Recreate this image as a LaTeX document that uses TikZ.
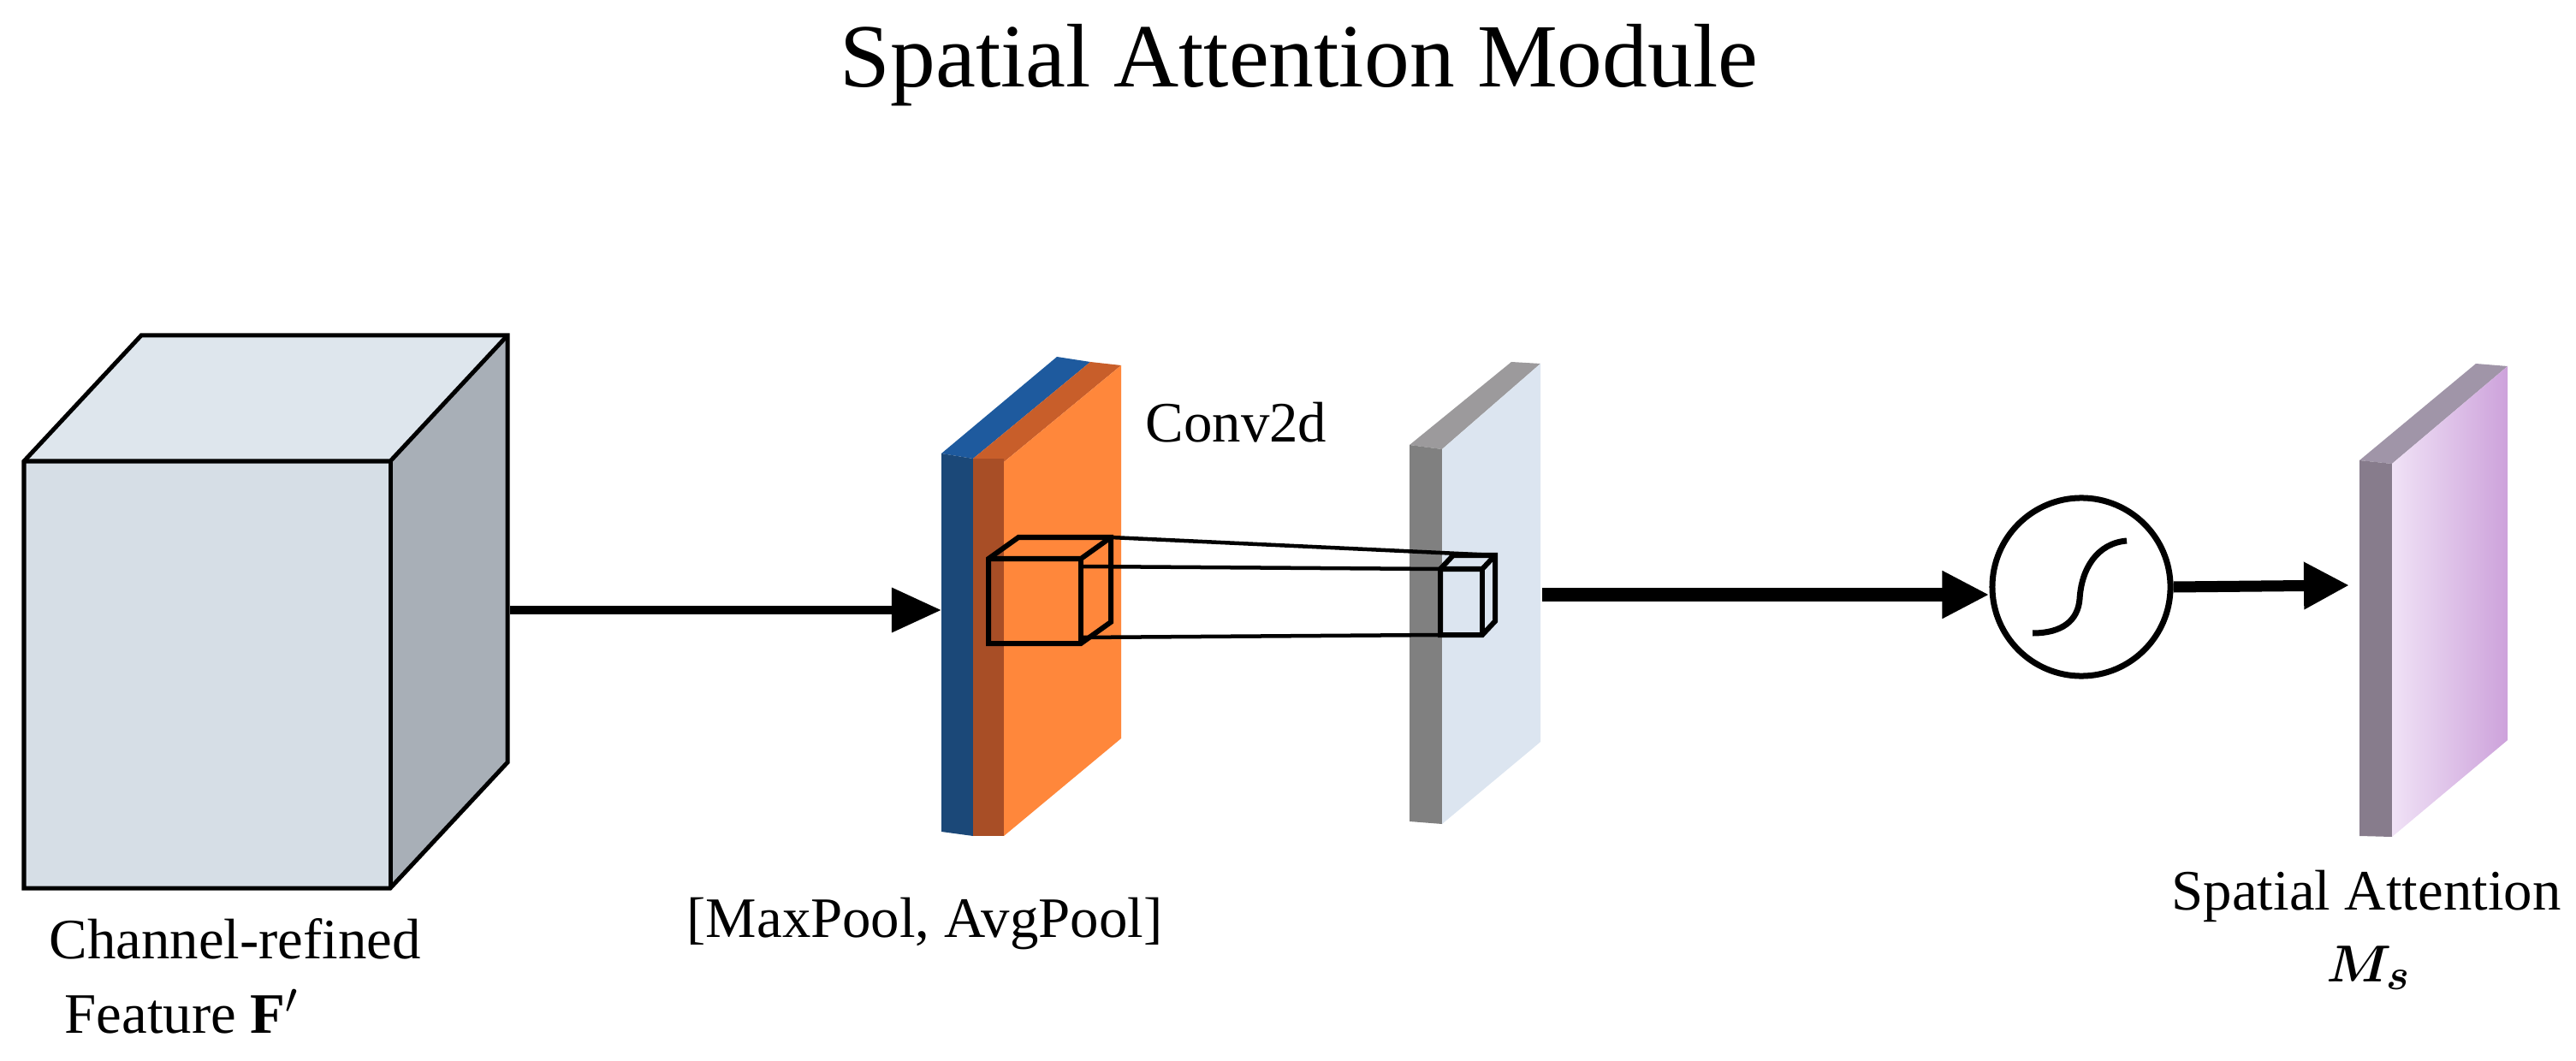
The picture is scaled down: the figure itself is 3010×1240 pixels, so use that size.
\documentclass[tikz,border=0pt]{standalone}
\usepackage{fontspec}
\usepackage{bm}
\setmainfont{Liberation Serif}
\usetikzlibrary{arrows.meta}
\definecolor{cubeF}{HTML}{D6DEE6}
\definecolor{cubeT}{HTML}{DEE6ED}
\definecolor{cubeR}{HTML}{A8AFB7}
\definecolor{blueF}{HTML}{1B4878}
\definecolor{blueT}{HTML}{1E5A9E}
\definecolor{orgF}{HTML}{A84E26}
\definecolor{orgT}{HTML}{C85E2A}
\definecolor{orgS}{HTML}{FF873B}
\definecolor{grayF}{HTML}{808080}
\definecolor{grayT}{HTML}{9C9A9C}
\definecolor{lightS}{HTML}{DCE5F0}
\definecolor{purF}{HTML}{877C8C}
\definecolor{purT}{HTML}{A095A8}
\definecolor{purL}{HTML}{F0E2F6}
\definecolor{purR}{HTML}{CDA2DB}
\tikzset{
  lbl/.style={font=\fontsize{19}{23}\selectfont, inner sep=0pt},
  edge/.style={line width=0.5mm, line join=miter},
  fat/.style={line width=1mm, -{Triangle[length=5.8mm,width=5mm]}},
  wire/.style={line width=0.45mm}
}
\begin{document}
\begin{tikzpicture}[x=0.01cm,y=-0.01cm]
\useasboundingbox (0,0) rectangle (3010,1240);
% title
\node[inner sep=0pt, anchor=base, font=\fontsize{30}{36}\selectfont] (title) at (1518,102) {Spatial Attention Module};
% big cube
\fill[cubeT] (28,539) -- (165,392) -- (593,392) -- (456,539) -- cycle;
\fill[cubeR] (456,539) -- (593,392) -- (593,891) -- (456,1038) -- cycle;
\fill[cubeF] (28,539) rectangle (456,1038);
\draw[edge] (28,539) -- (165,392) -- (593,392) -- (593,891) -- (456,1038) -- (28,1038) -- cycle;
\draw[edge] (28,539) -- (456,539) -- (593,392);
\draw[edge] (456,539) -- (456,1038);
\node[inner sep=0pt] (cube) at (310,715) {};
\coordinate (c1) at (596,713);
\coordinate (s1) at (1100,713);
\draw[fat] (c1) -- (s1);
% blue slab
\fill[blueT] (1100,530) -- (1235,417) -- (1274,423) -- (1137,536) -- cycle;
\fill[blueF] (1100,530) -- (1137,536) -- (1137,977) -- (1100,972) -- cycle;
% orange slab
\fill[orgT] (1137,536) -- (1274,423) -- (1310,427) -- (1173,540) -- cycle;
\fill[orgF] (1137,536) rectangle (1173,977);
\fill[orgS] (1173,540) -- (1310,427) -- (1310,863) -- (1173,977) -- cycle;
\node[lbl, anchor=base west] (conv) at (1338,517) {Conv2d};
\node[lbl, anchor=base west] (pool) at (802,1095) {[MaxPool, AvgPool]};
% gray panel
\fill[grayT] (1647,520) -- (1766,423) -- (1800,425) -- (1685,525) -- cycle;
\fill[grayF] (1647,520) -- (1685,525) -- (1685,963) -- (1647,960) -- cycle;
\fill[lightS] (1685,525) -- (1800,425) -- (1800,867) -- (1685,963) -- cycle;
% small cube on slab
\draw[edge, line width=0.6mm] (1155,653) -- (1190,628) -- (1298,628) -- (1298,727) -- (1263,752) -- (1155,752) -- cycle;
\draw[edge, line width=0.6mm] (1155,653) -- (1263,653) -- (1298,628);
\draw[edge, line width=0.6mm] (1263,653) -- (1263,752);
% small box on panel
\fill[lightS] (1683,665) rectangle (1732,742);
\draw[edge, line width=0.6mm] (1683,665) -- (1698,649) -- (1747,649) -- (1747,726) -- (1732,742) -- (1683,742) -- cycle;
\draw[edge, line width=0.6mm] (1683,665) -- (1732,665) -- (1747,649);
\draw[edge, line width=0.6mm] (1732,665) -- (1732,742);
% convergent lines
\coordinate (k1) at (1298,628); \coordinate (b1) at (1747,649);
\coordinate (k2) at (1263,662); \coordinate (b2) at (1683,665);
\coordinate (k3) at (1263,745); \coordinate (b3) at (1683,742);
\draw[wire] (k1) -- (b1);
\draw[wire] (k2) -- (b2);
\draw[wire] (k3) -- (b3);
% arrow 2
\node[circle, draw, line width=0.7mm, minimum size=2.08cm, inner sep=0pt] (sig) at (2432,686) {};
\coordinate (p2) at (1802,695);
\draw[line width=1.5mm, -{Triangle[length=5.5mm,width=5.2mm]}] (p2) -- (sig.west |- p2);
\draw[line width=0.7mm] (2375,740) .. controls (2410,740) and (2428,725) .. (2430,700)
  .. controls (2432,665) and (2450,635) .. (2485,632);
% purple panel
\fill[purT] (2757,538) -- (2893,425) -- (2930,428) -- (2795,542) -- cycle;
\fill[purF] (2757,538) -- (2795,542) -- (2795,978) -- (2757,977) -- cycle;
\shade[left color=purL, right color=purR] (2795,542) -- (2930,428) -- (2930,865) -- (2795,978) -- cycle;
\coordinate (pm) at (2745,684);
\draw[line width=1.3mm, -{Triangle[length=5.3mm,width=5.2mm]}] (sig.east) -- (pm);
% labels
\node[lbl, anchor=base west] (cr) at (57,1120) {Channel-refined};
\node[lbl, anchor=base west] (ft) at (75,1207) {Feature $\mathbf{F}'$};
\node[lbl, anchor=base east] (sa) at (2993,1063) {Spatial Attention};
\node[lbl, anchor=base west] (ms) at (2718,1147) {$\bm{M_s}$};
\end{tikzpicture}
\end{document}
